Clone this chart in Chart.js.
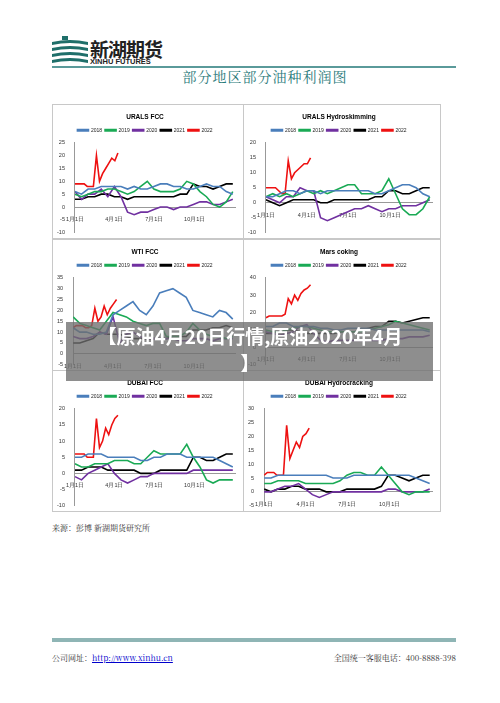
<!DOCTYPE html>
<html><head><meta charset="utf-8">
<script src="https://cdn.jsdelivr.net/npm/chart.js@4"></script>
<style>
body{margin:0;width:500px;height:703px;background:#fff;position:relative;font-family:"Noto Sans CJK SC",sans-serif;overflow:hidden}
.p{position:absolute;border:1px solid #c8c8c8;box-sizing:border-box}
.p canvas{position:absolute;left:0;top:0}
.ab{position:absolute}
</style></head><body>
<svg class="ab" style="left:52px;top:36px" width="36" height="28" viewBox="0 0 36 28">
<g fill="#1f6f6a"><rect x="10" y="0" width="6" height="4"/><path d="M0 6 Q18 2 36 6 L36 9 Q18 5 0 9Z"/><path d="M0 12 Q18 8 36 12 L36 15 Q18 11 0 15Z"/><path d="M0 18 Q18 14 36 18 L36 21 Q18 17 0 21Z"/><path d="M0 24 Q18 20 36 24 L36 27 Q18 23 0 27Z"/></g></svg>
<div class="ab" style="left:90px;top:35px;font:bold 19px 'Noto Sans CJK SC';color:#222;letter-spacing:-1px">新湖期货</div>
<div class="ab" style="left:90px;top:57px;font:bold 7.5px 'Liberation Sans';color:#222">XINHU FUTURES</div>
<div class="ab" style="left:52px;top:66px;width:404px;height:1.5px;background:#5a9a9a"></div>
<div class="ab" style="left:0;width:500px;top:66px;text-align:center;font:14px 'Noto Serif CJK SC','Noto Sans CJK SC',serif;color:#2a7a7a;letter-spacing:1px;padding-left:30px;box-sizing:border-box">部分地区部分油种利润图</div>
<div class="p" style="left:52px;top:104px;width:192px;height:135px"><canvas id="c1"></canvas></div>
<div class="p" style="left:243px;top:104px;width:198px;height:135px"><canvas id="c2"></canvas></div>
<div class="p" style="left:52px;top:239px;width:192px;height:132px"><canvas id="c3"></canvas></div>
<div class="p" style="left:243px;top:239px;width:198px;height:132px"><canvas id="c4"></canvas></div>
<div class="p" style="left:52px;top:370px;width:192px;height:142px"><canvas id="c5"></canvas></div>
<div class="p" style="left:243px;top:370px;width:198px;height:142px"><canvas id="c6"></canvas></div>
<div class="ab" style="left:66px;top:322px;width:367px;height:59px;background:rgba(110,110,110,0.78)"></div>
<div class="ab" style="left:60px;top:322px;width:380px;text-align:center;font:bold 19px 'Noto Sans CJK SC';color:#fff;line-height:27px">【原油4月20日行情,原油2020年4月<br>】</div>
<div class="ab" style="left:52px;top:522px;font:8px 'Noto Serif CJK SC','Noto Sans CJK SC';color:#333">来源：彭博 新湖期货研究所</div>
<div class="ab" style="left:52px;top:638px;width:404px;height:4px;background:#8fb5b5"></div>
<div class="ab" style="left:52px;top:652px;font:8px 'Noto Serif CJK SC','Noto Sans CJK SC';color:#333">公司网址：<span style="color:#00c;text-decoration:underline">http://www.xinhu.cn</span></div>
<div class="ab" style="left:300px;width:156px;text-align:right;top:652px;font:8px 'Noto Serif CJK SC','Noto Sans CJK SC';color:#333">全国统一客服电话：400-8888-398</div>
<script>
const years=['2018','2019','2020','2021','2022'];
const colors=['#4a7ebb','#1aaa55','#7030a0','#000000','#ee1111'];
const days=[0,15,30,45,60,75,90,105,120,135,150,165,180,195,210,225,240,255,270,285,300,315,330,345,360];
const days22=[0,7,14,21,28,35,42,49,56,63,70,77,84,91,98];
const tickDays=[0,90,181,273];
const tickLabels=['1月1日','4月1日','7月1日','10月1日'];

const titles=['URALS FCC','URALS Hydroskimming','WTI FCC','Mars coking','DUBAI FCC','DUBAI Hydrocracking'];
const yRange=[[-10,25],[-10,20],[-5,35],[-10,40],[-10,20],[-5,30]];

const uralsFcc=[
[6,5,7,7,8,8,8,8,7,8,7,7,8,9,9,8,8,7,7,8,9,8,8,6,5],
[5,4,5,6,6,7,7,6,5,6,8,10,7,6,6,6,7,10,9,6,4,1,0,2,6],
[6,3,5,5,7,4,8,4,-2,-3,-2,-2,-1,0,0,-1,0,0,1,2,2,1,1,2,3],
[3,3,4,4,5,5,4,4,3,4,4,4,4,4,4,4,5,5,9,8,8,7,8,9,9],
[9,9,9,9,8,8,8,20,10,13,15,17,19,18,21]];
const uralsHs=[
[2,2,3,4,4,3,4,4,3,4,4,4,4,4,4,4,3,3,4,5,6,6,5,3,2],
[2,3,2,3,2,3,4,3,4,3,4,5,6,6,3,3,3,4,8,3,-2,-4,-4,-2,2],
[2,1,0,2,2,5,4,4,-5,-6,-5,-4,-3,-2,-2,-1,-2,-3,-2,-2,-1,-1,-1,0,1],
[1,0,-1,0,1,1,1,1,0,0,1,1,1,1,1,1,2,2,4,4,3,3,4,5,5],
[5,5,5,5,4,3,3,14,8,10,11,12,13,13,15]];
const wtiFcc=[
[12,10,10,9,9,10,18,20,22,24,20,18,22,28,29,30,28,26,20,19,18,17,20,19,16],
[17,14,13,12,11,15,19,18,17,15,14,13,14,14,8,8,8,10,14,11,9,8,8,7,8],
[8,7,7,8,10,9,17,5,9,10,8,7,7,7,7,7,6,6,7,7,7,6,7,7,7],
[5,5,6,7,10,9,9,9,8,7,7,7,7,7,7,8,8,8,11,11,11,12,12,13,12],
[12,13,13,13,12,12,13,21,15,17,22,18,21,23,25]];
const marsCoking=[
[12,12,14,14,12,12,12,12,11,11,10,10,11,11,11,11,10,10,10,10,10,10,10,10,9],
[10,9,9,10,11,12,12,11,10,9,9,9,9,9,9,10,11,12,13,15,14,13,12,11,10],
[9,8,7,8,9,12,13,8,4,3,4,4,4,4,4,4,4,4,5,5,5,6,6,6,7],
[8,8,9,10,10,9,8,8,8,8,8,9,9,9,10,11,12,12,15,15,14,15,16,17,17],
[17,18,18,18,18,18,19,28,25,30,27,31,33,34,36]];
const dubaiFcc=[
[5,5,6,6,6,5,5,5,5,5,4,4,5,5,6,6,6,5,5,5,5,5,4,3,2],
[3,2,2,3,3,3,4,4,4,3,3,5,7,6,6,6,6,9,5,2,-2,-3,-2,-2,-2],
[-1,-2,0,1,2,3,0,-2,-3,-2,-1,-1,0,0,0,0,0,0,1,1,1,1,1,1,1],
[1,1,2,2,2,1,1,1,1,1,0,0,0,1,1,1,1,1,5,5,4,4,5,6,6],
[6,6,6,6,5,5,5,17,8,10,14,12,15,17,18]];
const dubaiHc=[
[5,5,6,6,6,6,6,6,6,6,5,5,5,6,6,6,6,6,6,6,6,6,5,4,3],
[3,3,4,4,4,4,3,3,3,3,3,4,6,7,7,6,6,9,6,3,0,-1,0,0,0],
[0,0,1,2,2,3,1,-1,-2,-1,0,0,0,0,0,0,0,0,1,1,0,0,0,0,1],
[1,0,1,1,2,2,1,1,1,0,0,0,1,1,1,1,1,2,6,6,5,4,5,6,6],
[6,7,7,7,6,6,6,24,12,15,18,16,20,21,23]];
const allData=[uralsFcc,uralsHs,wtiFcc,marsCoking,dubaiFcc,dubaiHc];

allData.forEach((series,i)=>{
  const el=document.getElementById('c'+(i+1));
  const box=el.parentElement;
  el.width=box.clientWidth; el.height=box.clientHeight;
  new Chart(el,{type:'line',
    data:{datasets:series.map((vals,j)=>({label:years[j],
      data:vals.map((v,k)=>({x:(j===4?days22:days)[k],y:v})),
      borderColor:colors[j],backgroundColor:colors[j],borderWidth:1.6,pointRadius:0,tension:0}))},
    options:{responsive:false,animation:false,
      layout:{padding:{left:2,right:8,top:2,bottom:4}},
      plugins:{title:{display:true,text:titles[i],font:{size:6.5,weight:'bold',family:'Liberation Sans'},color:'#000',padding:{top:6,bottom:4}},
        legend:{labels:{boxWidth:11,boxHeight:1.5,font:{size:5,family:'Liberation Sans'},color:'#222',padding:3}},
        tooltip:{enabled:false}},
      scales:{
        x:{type:'linear',min:0,max:365,position:{y:0},
          afterBuildTicks:a=>{a.ticks=tickDays.map(v=>({value:v}));},
          ticks:{callback:(v)=>tickLabels[tickDays.indexOf(v)]||'',font:{size:5.5},color:'#333',maxRotation:0,padding:1},
          grid:{display:false},border:{color:'#999'}},
        y:{min:yRange[i][0],max:yRange[i][1],ticks:{stepSize:5,font:{size:5.5},color:'#333',padding:2},
          grid:{display:false,drawTicks:true},border:{color:'#999'}}}}});
});
</script></body></html>
